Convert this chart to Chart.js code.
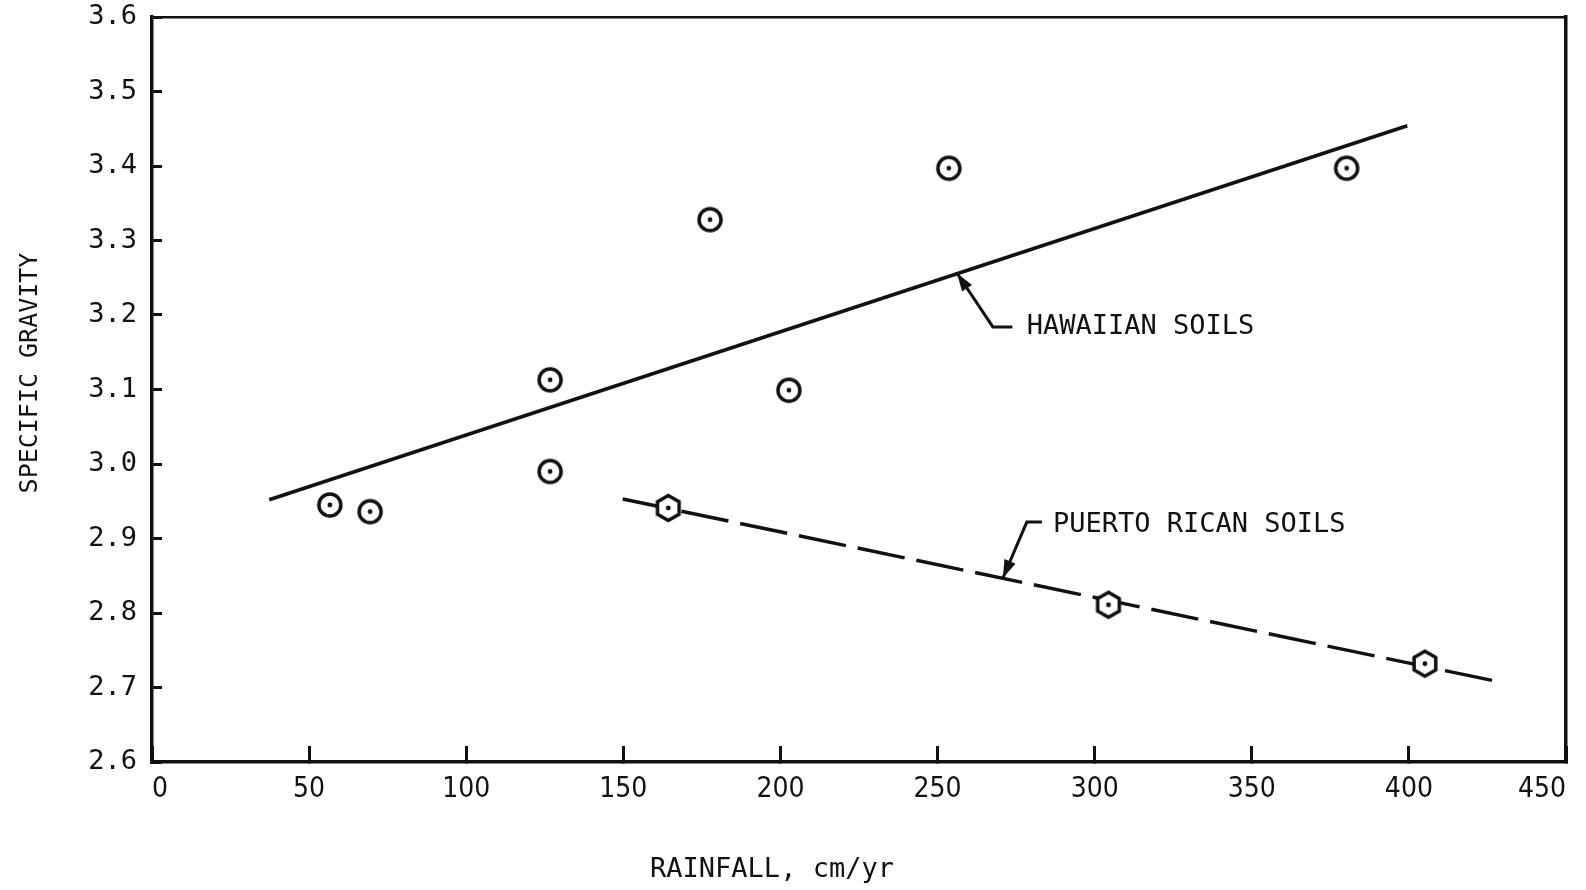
<!DOCTYPE html>
<html>
<head>
<meta charset="utf-8">
<script src="https://cdn.jsdelivr.net/npm/chart.js@4/dist/chart.umd.min.js"></script>
<style>
  body { margin: 0; background: #fff; }
  #wrap { width: 1586px; height: 890px; }
</style>
</head>
<body>
<div id="wrap"><canvas id="gravityChart" width="1586" height="890"></canvas></div>
<script>
// data
const xTicks = [0, 50, 100, 150, 200, 250, 300, 350, 400, 450];
const yTicks = ['2.6', '2.7', '2.8', '2.9', '3.0', '3.1', '3.2', '3.3', '3.4', '3.5', '3.6'];

const hawaiiRain = [56.6, 69.4, 126.7, 126.7, 177.6, 202.7, 253.6, 380.2];
const hawaiiSG   = [2.945, 2.936, 3.113, 2.990, 3.328, 3.099, 3.397, 3.397];

const prRain = [164.3, 304.4, 405.1];
const prSG   = [2.941, 2.811, 2.732];

// fitted lines (end points)
const hawaiiLineX = [37.3, 399.5];
const hawaiiLineY = [2.952, 3.454];
const prLineX = [149.8, 429.3];
const prLineY = [2.953, 2.707];

const ink = '#111';
const pts = (xs, ys) => xs.map((x, i) => ({ x: x, y: ys[i] }));

// marker images: circle with dot, hexagon with dot
function makeMarker(shape) {
    const c = document.createElement('canvas');
    c.width = 32; c.height = 32;
    const g = c.getContext('2d');
    g.strokeStyle = ink; g.fillStyle = ink; g.lineWidth = 3.5;
    g.beginPath();
    if (shape === 'circle') {
        g.arc(16, 16, 11, 0, Math.PI * 2);
    } else {
        for (let i = 0; i < 6; i++) {
            const a = -Math.PI / 2 + i * Math.PI / 3;
            const px = 16 + 12.5 * Math.cos(a), py = 16 + 12.5 * Math.sin(a);
            i ? g.lineTo(px, py) : g.moveTo(px, py);
        }
        g.closePath();
        g.fillStyle = '#fff'; g.fill(); g.fillStyle = ink;
    }
    g.stroke();
    g.beginPath(); g.arc(16, 16, 2.4, 0, Math.PI * 2); g.fill();
    return c;
}

// leader lines, labels and axis titles
const notes = {
    id: 'notes',
    afterDatasetsDraw(chart) {
        const { ctx, scales: { x, y } } = chart;
        ctx.save();
        ctx.strokeStyle = ink; ctx.fillStyle = ink; ctx.lineWidth = 3;

        function leader(tip, elbow, end) {
            const tx = x.getPixelForValue(tip[0]), ty = y.getPixelForValue(tip[1]);
            const ex = x.getPixelForValue(elbow[0]), ey = y.getPixelForValue(elbow[1]);
            const fx = x.getPixelForValue(end[0]);
            ctx.beginPath();
            ctx.moveTo(fx, ey); ctx.lineTo(ex, ey); ctx.lineTo(tx, ty);
            ctx.stroke();
            const a = Math.atan2(ty - ey, tx - ex);
            ctx.beginPath();
            ctx.moveTo(tx, ty);
            ctx.lineTo(tx - 18 * Math.cos(a) + 6 * Math.sin(a), ty - 18 * Math.sin(a) - 6 * Math.cos(a));
            ctx.lineTo(tx - 18 * Math.cos(a) - 6 * Math.sin(a), ty - 18 * Math.sin(a) + 6 * Math.cos(a));
            ctx.closePath(); ctx.fill();
        }
        leader([256.2, 3.256], [267.6, 3.184], [273.8, 3.184]);
        leader([270.8, 2.847], [278.4, 2.922], [283.2, 2.922]);

        ctx.font = '27px "DejaVu Sans Mono"';
        ctx.textAlign = 'left'; ctx.textBaseline = 'middle';
        ctx.fillText('HAWAIIAN SOILS', x.getPixelForValue(278.4), y.getPixelForValue(3.184));
        ctx.fillText('PUERTO RICAN SOILS', x.getPixelForValue(286.7), y.getPixelForValue(2.918));

        // axis titles
        ctx.textAlign = 'center';
        ctx.fillText('RAINFALL, cm/yr', 772, 870);
        ctx.save();
        ctx.translate(30, 373);
        ctx.rotate(-Math.PI / 2);
        ctx.font = '25px "DejaVu Sans Mono"';
        ctx.fillText('SPECIFIC GRAVITY', 0, 0);
        ctx.restore();
        ctx.restore();
    }
};

new Chart(document.getElementById('gravityChart').getContext('2d'), {
    type: 'scatter',
    data: {
        datasets: [
            {
                label: 'Hawaiian soils',
                data: pts(hawaiiRain, hawaiiSG),
                pointStyle: makeMarker('circle'),
                pointRadius: 12
            },
            {
                label: 'Puerto Rican soils',
                data: pts(prRain, prSG),
                pointStyle: makeMarker('hexagon'),
                pointRadius: 12
            },
            {
                label: 'Hawaiian fit',
                data: pts(hawaiiLineX, hawaiiLineY),
                showLine: true,
                borderColor: ink,
                borderWidth: 3.5,
                pointRadius: 0
            },
            {
                label: 'Puerto Rican fit',
                data: pts(prLineX, prLineY),
                showLine: true,
                borderColor: ink,
                borderWidth: 3.5,
                borderDash: [48, 12],
                pointRadius: 0
            }
        ]
    },
    options: {
        responsive: false,
        animation: false,
        layout: { padding: 0 },
        plugins: { legend: { display: false }, tooltip: { enabled: false } },
        scales: {
            x: {
                type: 'linear',
                min: 0, max: 450,
                afterBuildTicks: s => { s.ticks = xTicks.map(v => ({ value: v })); },
                afterFit: s => { s.height = 128; s.paddingLeft = 0; s.paddingRight = 0; },
                border: { display: true, color: ink, width: 3.5 },
                grid: { drawOnChartArea: false, drawTicks: true, tickLength: -16, color: ink, lineWidth: 3 },
                ticks: {
                    color: ink,
                    padding: 27,
                    maxRotation: 0,
                    align: 'inner',
                    font: { family: '"Liberation Sans Narrow", "DejaVu Sans Condensed", sans-serif', size: 28 },
                    callback: v => String(v)
                }
            },
            y: {
                type: 'linear',
                min: 2.6, max: 3.6,
                afterBuildTicks: s => { s.ticks = yTicks.map(v => ({ value: parseFloat(v) })); },
                afterFit: s => { s.width = 152; s.paddingTop = 0; s.paddingBottom = 0; },
                border: { display: true, color: ink, width: 3.5 },
                grid: { drawOnChartArea: false, drawTicks: true, tickLength: -10, color: ink, lineWidth: 3 },
                ticks: {
                    color: ink,
                    padding: 25,
                    font: { family: '"DejaVu Sans Mono", monospace', size: 27 },
                    callback: (v, i) => yTicks[i]
                }
            },
            xTop: {
                type: 'linear', position: 'top', min: 0, max: 1,
                afterFit: s => { s.height = 17; s.paddingLeft = 0; s.paddingRight = 0; },
                border: { display: true, color: ink, width: 2.5 },
                grid: { display: false },
                ticks: { display: false }
            },
            yRight: {
                type: 'linear', position: 'right', min: 0, max: 1,
                afterFit: s => { s.width = 20; s.paddingTop = 0; s.paddingBottom = 0; },
                border: { display: true, color: ink, width: 3.5 },
                grid: { display: false },
                ticks: { display: false }
            }
        }
    },
    plugins: [notes]
});
</script>
</body>
</html>
